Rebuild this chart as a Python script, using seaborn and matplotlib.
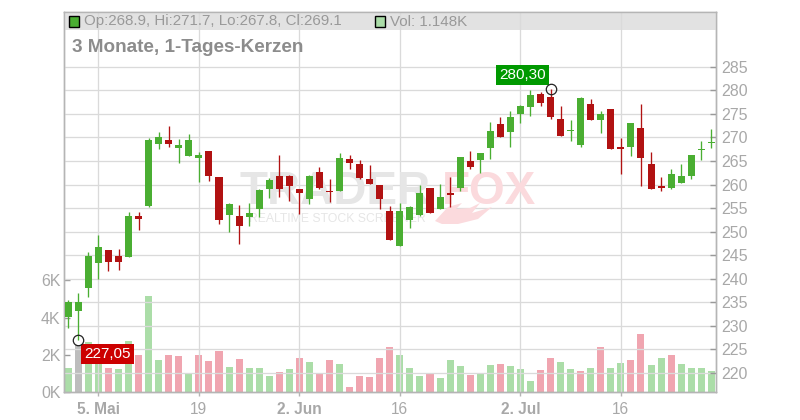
import matplotlib
matplotlib.use("Agg")
import matplotlib.pyplot as plt
from matplotlib.patches import Rectangle, Polygon
import pandas as pd
import seaborn as sns

opens = [231.9, 233.2, 238.0, 243.4, 246.1, 244.8, 244.6, 253.3, 255.45, 268.6, 269.45, 267.75, 266.05, 265.6, 267.1, 261.6,
         253.5, 253.3, 253.1, 254.8, 259.05, 261.8, 261.8, 259.05, 256.9, 262.66, 258.6, 258.6, 265.4, 264.4, 261.2, 259.9,
         254.4, 246.95, 252.5, 253.5, 259.27, 254.8, 258.2, 259.27, 265.0, 265.2, 267.75, 272.85, 271.15, 274.97, 276.46, 279.2,
         278.58, 273.9, 271.36, 268.4, 277.1, 273.7, 276.03, 267.97, 267.97, 272.0, 264.36, 259.69, 259.27, 260.33, 261.8, 267.33, 268.9]
highs = [235.6, 236.9, 245.7, 249.3, 246.1, 246.3, 254.1, 254.1, 269.9, 271.15, 272.4, 269.7, 270.7, 266.9, 267.1, 261.6,
         256.1, 255.65, 256.1, 259.05, 261.4, 266.25, 262.0, 259.05, 262.0, 263.7, 261.2, 266.7, 266.3, 265.2, 264.15, 259.9,
         255.45, 256.1, 255.45, 259.9, 259.27, 260.1, 261.6, 265.85, 267.1, 266.7, 273.3, 274.3, 275.6, 276.9, 280.07, 279.64,
         280.3, 276.67, 273.7, 278.58, 278.16, 275.6, 276.03, 269.88, 273.06, 277.1, 266.91, 261.6, 263.3, 264.36, 266.27, 269.24, 271.7]
lows = [229.6, 227.05, 236.1, 239.9, 241.7, 241.9, 244.6, 250.4, 255.2, 267.5, 268.0, 264.6, 266.05, 260.5, 260.75, 251.6,
        249.9, 247.4, 251.2, 253.1, 257.2, 257.35, 256.5, 253.75, 255.9, 259.06, 256.3, 258.6, 263.3, 261.2, 260.1, 254.8,
        248.2, 246.95, 250.8, 253.3, 253.96, 254.8, 255.2, 258.6, 263.3, 262.45, 265.4, 270.1, 267.97, 273.06, 274.55, 276.67,
        273.9, 270.3, 269.24, 267.97, 273.7, 270.94, 267.55, 262.24, 266.06, 259.69, 259.06, 258.63, 259.06, 260.33, 261.18, 265.21, 267.8]
closes = [235.1, 235.1, 244.8, 246.8, 243.6, 243.6, 253.3, 252.7, 269.45, 270.1, 268.6, 268.4, 269.45, 266.3, 261.8, 252.5,
          255.9, 251.2, 253.96, 258.8, 261.0, 259.05, 259.7, 258.2, 261.8, 259.27, 258.4, 265.6, 264.6, 261.4, 260.1, 256.9,
          248.2, 254.4, 255.2, 258.2, 253.96, 257.35, 257.8, 265.85, 263.7, 266.7, 271.4, 270.1, 274.3, 276.67, 279.0, 277.3,
          274.34, 270.3, 271.6, 278.37, 273.7, 274.97, 267.55, 267.55, 273.06, 265.63, 259.06, 259.27, 262.24, 261.8, 266.27, 267.55, 269.1]
volumes = [1.30, 2.52, 2.70, 2.30, 1.30, 1.25, 2.75, 2.00, 5.16, 1.73, 2.00, 1.95, 0.98, 2.00, 1.68, 2.22,
           1.36, 1.79, 1.30, 1.30, 0.88, 1.09, 1.25, 1.84, 1.63, 1.04, 1.73, 1.52, 0.29, 0.88, 0.82, 1.84,
           2.43, 2.00, 1.30, 0.88, 0.98, 0.77, 1.73, 1.41, 0.93, 0.98, 1.47, 1.52, 1.41, 1.25, 0.61, 1.20,
           1.84, 1.63, 1.25, 1.14, 1.30, 2.43, 1.30, 1.57, 1.73, 3.13, 1.47, 1.84, 2.00, 1.52, 1.30, 1.30, 1.148]
volume_kinds = list("GXGGRGGRGGRRGRRRGRGGGRGRGRRGRRRRRGGGRGGGRGGRGGGRRGGRGRGGRRGGRGGGG")
date_ticks = [3, 13, 23, 33, 45, 55]
date_labels = ["5. Mai", "19", "2. Jun", "16", "2. Jul", "16"]
date_bold = [True, False, True, False, True, False]
price_ticks = list(range(220, 290, 5))
volume_ticks = [0, 2, 4, 6]
volume_labels = ["0K", "2K", "4K", "6K"]

GREEN, RED = "#4AAE32", "#B11212"
GRID, AXIS, TXT = "#dadada", "#b5b5b5", "#a8a8a8"
W, H = 800, 420
L, R, T, B = 63.5, 716.0, 12.0, 392.3

sns.set_theme(style="white")
plt.rcParams["font.family"] = ["Liberation Sans", "DejaVu Sans"]

fig = plt.figure(figsize=(W / 100, H / 100), dpi=100, facecolor="white")
rect = [L / W, 1 - B / H, (R - L) / W, (B - T) / H]
ax = fig.add_axes(rect)
vol = ax.twinx()
ax.set_zorder(2)
vol.set_zorder(1)
ax.patch.set_visible(False)
vol.patch.set_visible(True)
vol.patch.set_facecolor("white")

idx = list(range(len(opens)))
df = pd.DataFrame({"i": idx, "vol": volumes, "kind": volume_kinds})
sns.barplot(data=df, x="i", y="vol", hue="kind", native_scale=True, dodge=False, width=0.7, saturation=1, linewidth=0,
            palette={"G": "#ABDDA8", "R": "#F0A5B0", "X": "#BDBDBD"}, legend=False, ax=vol)

for i, o, h, l, c in zip(idx, opens, highs, lows, closes):
    col = GREEN if volume_kinds[i] == "X" or c >= o else RED
    ax.vlines(i, l, h, color=col, lw=0.95, zorder=4)
    ax.bar(i, abs(c - o), bottom=min(o, c), width=0.7, color=col, lw=0, zorder=5)

xlim = ((L - 68.3) / 10.047, (R - 68.3) / 10.047)
ax.set_xlim(xlim)
vol.set_xlim(xlim)
ax.set_ylim(280 - (B - 90.3) / 4.712, 280 + (90.3 - T) / 4.712)
vol.set_ylim(0, (B - T) / 37.3 * 2)

ax.set_xlabel("")
ax.set_ylabel("")
vol.set_xlabel("")
vol.set_ylabel("")

ax.grid(True, color=GRID, lw=0.95)
ax.set_axisbelow(True)
ax.set_xticks(date_ticks)
ax.set_xticklabels(date_labels)
for t, b in zip(ax.get_xticklabels(), date_bold):
    t.set_fontweight("bold" if b else "normal")
ax.tick_params(axis="x", bottom=True, length=3, width=1, color=AXIS, labelsize=11.2, labelcolor=TXT, pad=4)
ax.yaxis.tick_right()
ax.set_yticks(price_ticks)
ax.tick_params(axis="y", right=True, left=False, direction="in", length=4, width=1, color="#999999",
               labelsize=11.5, labelcolor=TXT, pad=4)

vol.yaxis.tick_left()
vol.set_yticks(volume_ticks)
vol.set_yticklabels(volume_labels)
vol.tick_params(axis="y", left=True, right=False, direction="in", length=4, width=1, color="#999999",
                labelsize=11.5, labelcolor=TXT, pad=2, labelleft=True, labelright=False)
for a in (ax, vol):
    for s in a.spines.values():
        s.set_color(AXIS)
        s.set_linewidth(1)
        s.set_visible(True)


def px(x, y):
    return x / W, 1 - y / H


# watermark
wm = {"transform": fig.transFigure, "zorder": 1.5, "va": "center", "ha": "left", "fontweight": "bold"}
ax.text(*px(239, 192.5), "TRADER", color="#e6e6e6", fontsize=33, **wm)
ax.text(*px(442, 192.5), "FOX", color="#fbdadd", fontsize=33, **wm)
ax.text(*px(249, 219), "REALTIME STOCK SCREENER", color="#e6e6e6", fontsize=8.8,
        transform=fig.transFigure, zorder=1.5, va="center", ha="left")
tail = [(435, 221), (448, 207), (462, 203), (456, 209), (470, 208), (480, 203), (472, 213),
        (492, 207), (478, 219), (458, 224), (442, 224)]
ax.add_patch(Polygon([px(*p) for p in tail], closed=True, transform=fig.transFigure, fc="#fbdadd", ec="none", zorder=1.5))

# header band (under the price grid)
vol.add_patch(Rectangle(px(64, 30), (R - 64.5) / W, 18 / H, transform=fig.transFigure, fc="#e2e2e2", ec="none",
                        clip_on=False, zorder=6))
fig.add_artist(Rectangle(px(68.5, 26.5), 10 / W, 10 / H, transform=fig.transFigure, fc=GREEN, ec="black", lw=1, zorder=10))
fig.add_artist(Rectangle(px(375, 26.5), 10 / W, 10 / H, transform=fig.transFigure, fc="#ABDDA8", ec="black", lw=1, zorder=10))
fig.text(*px(84, 21.5), "Op:268.9, Hi:271.7, Lo:267.8, Cl:269.1", color="#999999", fontsize=10.9, va="center", zorder=11)
fig.text(*px(390, 21.5), "Vol: 1.148K", color="#999999", fontsize=10.9, va="center", zorder=11)
fig.text(*px(72, 47.5), "3 Monate, 1-Tages-Kerzen", color="#8c8c8c", fontsize=13.6, fontweight="bold", va="center", zorder=11)

# extreme markers
ax.plot([48, 1], [280.3, 227.05], ls="none", marker="o", ms=7.5, mfc="none", mec="#222222", mew=0.9, zorder=8)
ax.annotate("280,30", (48, 280.3), xytext=(-28, 14), textcoords="offset pixels", ha="center", va="center",
            color="white", fontsize=11, zorder=7,
            bbox=dict(boxstyle="square,pad=0.2", fc="#009900", ec="none"))
ax.annotate("227,05", (1, 227.05), xytext=(29, -14), textcoords="offset pixels", ha="center", va="center",
            color="white", fontsize=11, zorder=7,
            bbox=dict(boxstyle="square,pad=0.2", fc="#CC0000", ec="none"))

fig.savefig("out.png", dpi=100, facecolor="white")
